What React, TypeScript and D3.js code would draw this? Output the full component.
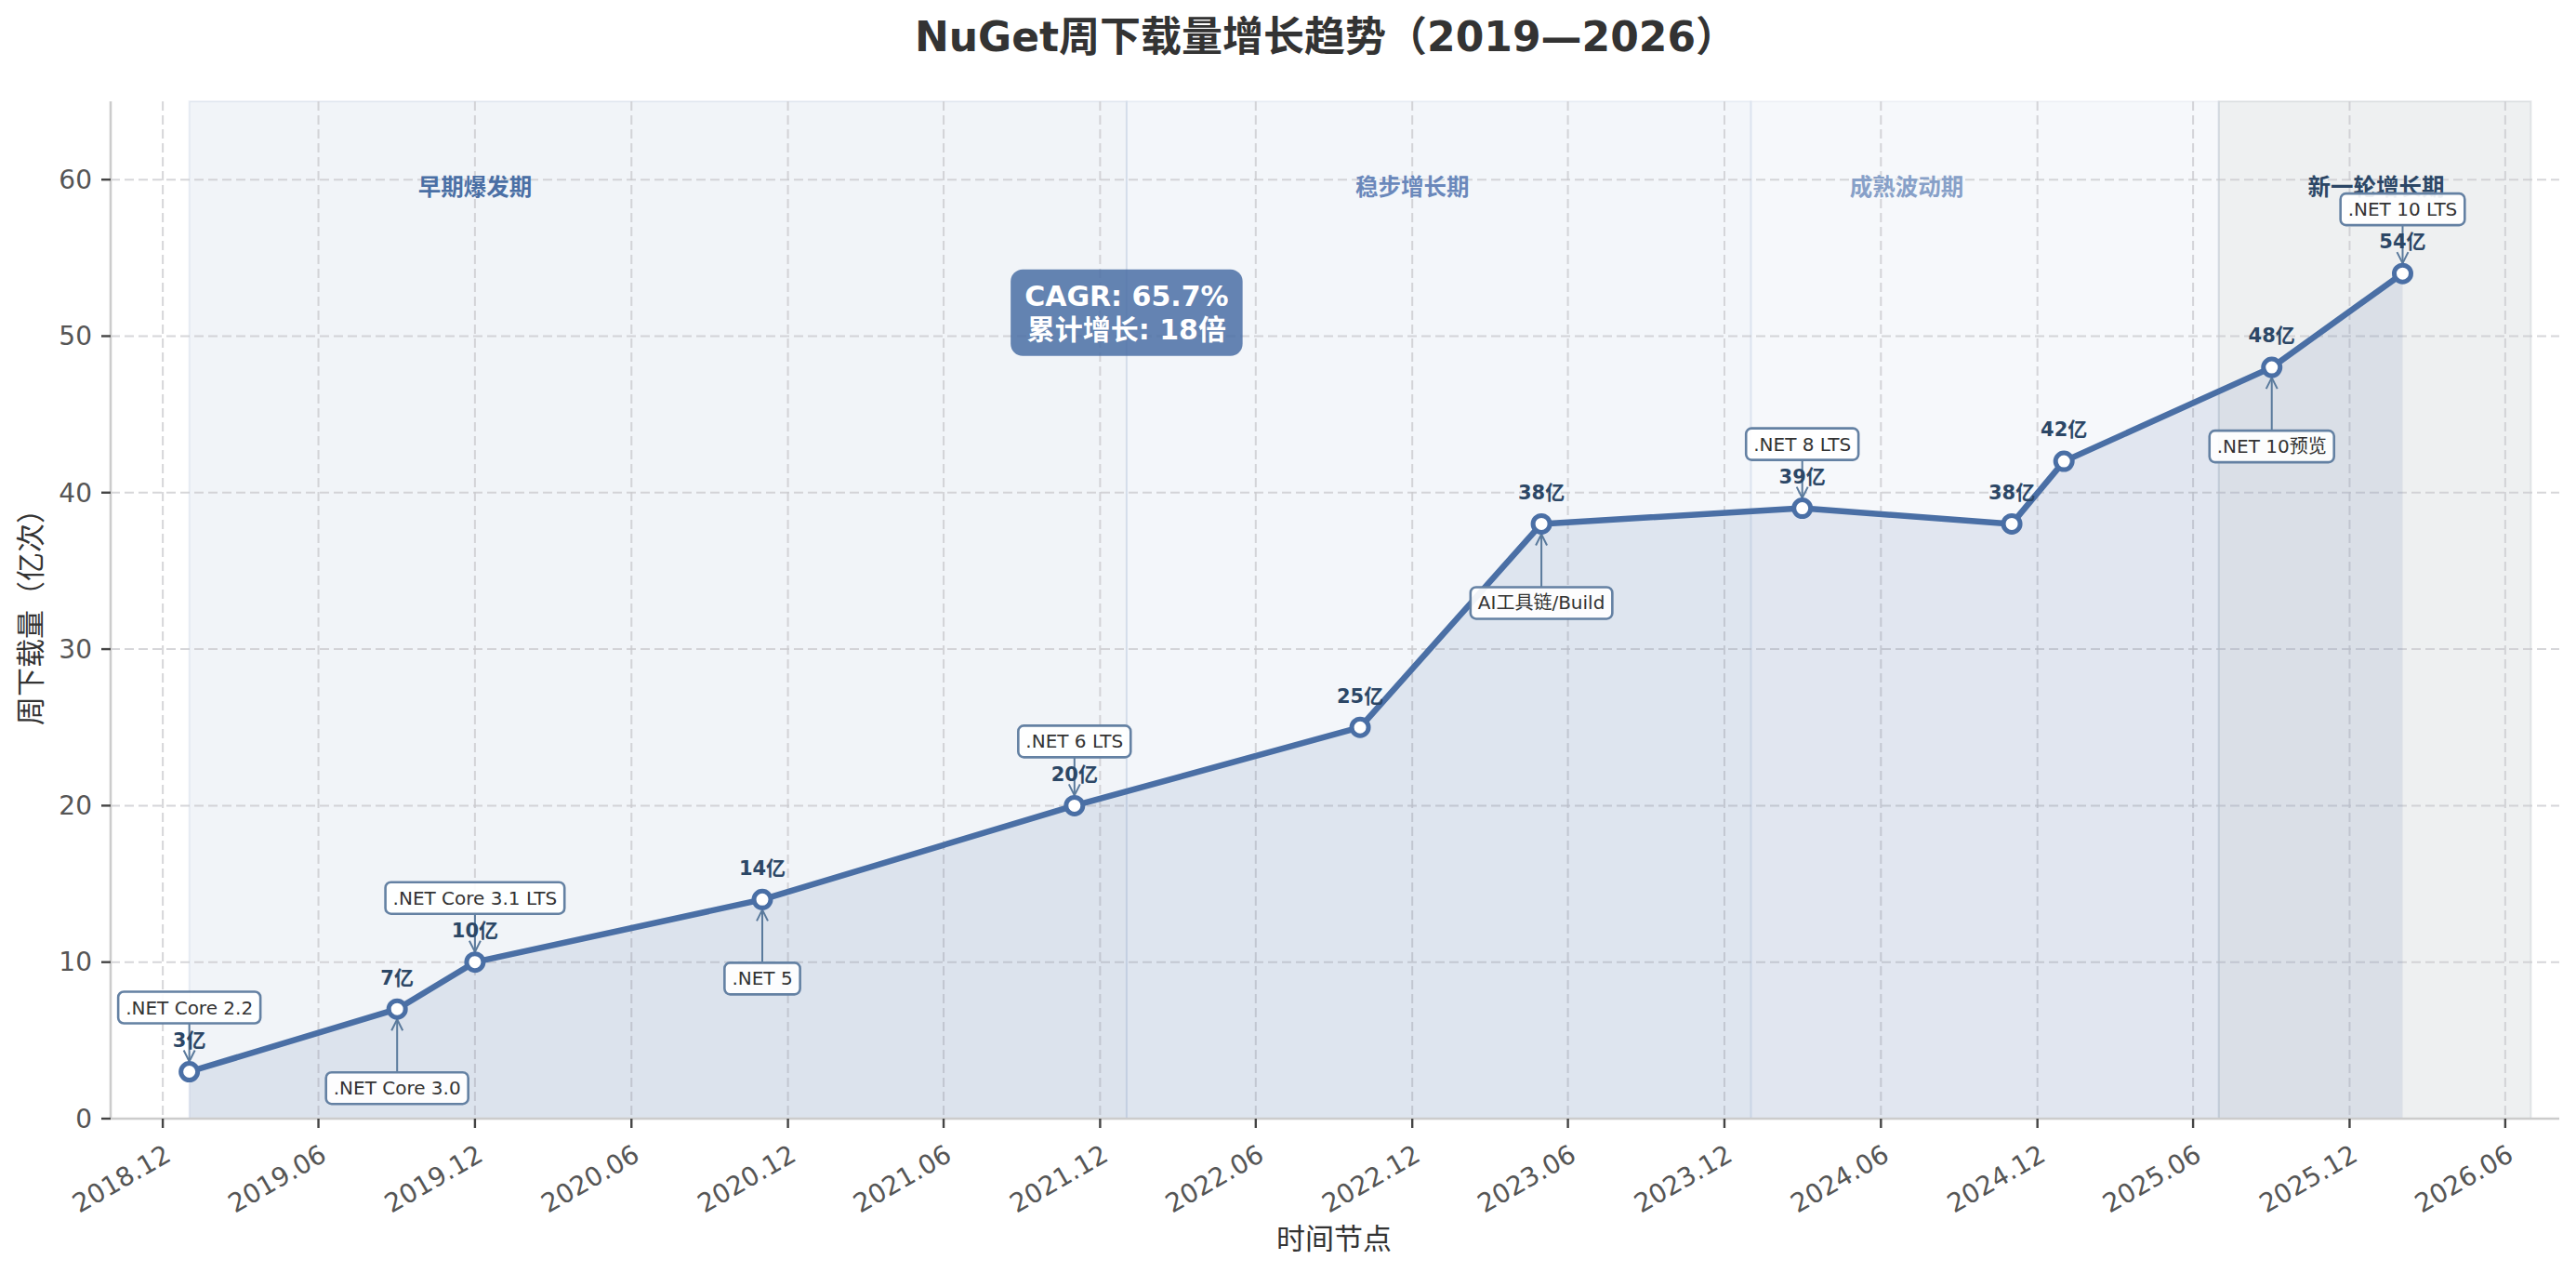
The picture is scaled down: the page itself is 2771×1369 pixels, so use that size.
import React, { useEffect, useRef } from "react";
import * as d3 from "d3";

// weekly downloads, 亿次
const pointDates = [
  "2019-01-01", "2019-09-01", "2019-12-01", "2020-11-01", "2021-11-01", "2022-10-01",
  "2023-05-01", "2024-03-01", "2024-11-01", "2025-01-01", "2025-09-01", "2026-02-01",
];
const pointValues = [3, 7, 10, 14, 20, 25, 38, 39, 38, 42, 48, 54];

// release annotations
const eventIndex = [0, 1, 2, 3, 4, 6, 7, 10, 11];
const eventLabels = [
  ".NET Core 2.2", ".NET Core 3.0", ".NET Core 3.1 LTS", ".NET 5", ".NET 6 LTS",
  "AI工具链/Build", ".NET 8 LTS", ".NET 10预览", ".NET 10 LTS",
];
const eventSide = ["above", "below", "above", "below", "above", "below", "above", "below", "above"];

// phases
const phaseNames = ["早期爆发期", "稳步增长期", "成熟波动期", "新一轮增长期"];
const phaseStarts = ["2019-01-01", "2022-01-01", "2024-01-01", "2025-07-01"];
const phaseEnds = ["2022-01-01", "2024-01-01", "2025-07-01", "2026-07-01"];
const phaseLabelDates = ["2019-12-01", "2022-12-01", "2024-07-01", "2026-01-01"];
const phaseLabelValue = 59.5;

const xTickLabels = [
  "2018.12", "2019.06", "2019.12", "2020.06", "2020.12", "2021.06", "2021.12", "2022.06",
  "2022.12", "2023.06", "2023.12", "2024.06", "2024.12", "2025.06", "2025.12", "2026.06",
];
const yTicks = [0, 10, 20, 30, 40, 50, 60];

const cagrText = ["CAGR: 65.7%", "累计增长: 18倍"];
const cagrDate = "2022-01-01";
const cagrValue = 51.5;

const phaseColors = ["#4a6fa5", "#6a8bbf", "#8fa5c8", "#2c3e50"];
const phaseTextColors = ["#4a6fa5", "#6a88bb", "#87a0c8", "#2c4766"];

const W = 2771;
const H = 1369;
const FONT = "'DejaVu Sans', 'Noto Sans CJK SC', sans-serif";
const LINE = "#4a6fa5";

const parse = (s: string) => new Date(s + "T00:00:00Z");
const parseTick = (s: string) => {
  const [y, m] = s.split(".").map(Number);
  return new Date(Date.UTC(y, m - 1, 1));
};

function App() {
  const ref = useRef<SVGSVGElement>(null);

  useEffect(() => {
    const svg = d3.select(ref.current);
    svg.selectAll("*").remove();

    const left = 119, right = 2751, top = 109, bottom = 1203;

    const x = d3
      .scaleUtc()
      .domain([new Date(Date.UTC(2018, 9, 1)), new Date(Date.UTC(2026, 7, 1))])
      .range([left, right]);
    const y = d3.scaleLinear().domain([0, 65]).range([bottom, top]);

    svg.append("rect").attr("width", W).attr("height", H).attr("fill", "#fff");

    // phase spans
    phaseNames.forEach((_, i) => {
      const x0 = x(parse(phaseStarts[i]));
      const x1 = x(parse(phaseEnds[i]));
      svg.append("rect")
        .attr("x", x0).attr("y", top)
        .attr("width", x1 - x0).attr("height", bottom - top)
        .attr("fill", phaseColors[i]).attr("fill-opacity", 0.08)
        .attr("stroke", phaseColors[i]).attr("stroke-opacity", 0.1).attr("stroke-width", 2);
    });

    // grid
    const grid = svg.append("g")
      .attr("stroke", "#c8c8cc").attr("stroke-opacity", 0.75)
      .attr("stroke-width", 2).attr("stroke-dasharray", "10,5");
    xTickLabels.forEach((t) => {
      const xx = x(parseTick(t));
      grid.append("line").attr("x1", xx).attr("x2", xx).attr("y1", top).attr("y2", bottom);
    });
    yTicks.forEach((t) => {
      grid.append("line").attr("x1", left).attr("x2", right + 2).attr("y1", y(t)).attr("y2", y(t));
    });

    const pts = pointDates.map((d, i) => ({ d: parse(d), v: pointValues[i] }));

    // area + line
    const area = d3.area<any>().x((p) => x(p.d)).y0(y(0)).y1((p) => y(p.v));
    svg.append("path").attr("d", area(pts)!).attr("fill", LINE).attr("fill-opacity", 0.12);
    const line = d3.line<any>().x((p) => x(p.d)).y((p) => y(p.v));
    svg.append("path").attr("d", line(pts)!).attr("fill", "none")
      .attr("stroke", LINE).attr("stroke-width", 6.5).attr("stroke-linejoin", "round");

    // spines
    svg.append("line").attr("x1", left).attr("x2", left).attr("y1", top).attr("y2", bottom)
      .attr("stroke", "#cccccc").attr("stroke-width", 2.6);
    svg.append("line").attr("x1", left).attr("x2", right + 2).attr("y1", bottom).attr("y2", bottom)
      .attr("stroke", "#cccccc").attr("stroke-width", 2.6);

    // ticks
    const tickG = svg.append("g").attr("font-family", FONT).attr("font-size", 28).attr("fill", "#555");
    yTicks.forEach((t) => {
      tickG.append("line").attr("x1", left - 10).attr("x2", left).attr("y1", y(t)).attr("y2", y(t))
        .attr("stroke", "#444").attr("stroke-width", 2.4);
      tickG.append("text").attr("x", left - 20).attr("y", y(t)).attr("dy", "0.35em")
        .attr("text-anchor", "end").text(String(t));
    });
    xTickLabels.forEach((t) => {
      const xx = x(parseTick(t));
      tickG.append("line").attr("x1", xx).attr("x2", xx).attr("y1", bottom).attr("y2", bottom + 10)
        .attr("stroke", "#444").attr("stroke-width", 2.4);
      tickG.append("text")
        .attr("transform", `translate(${xx},${bottom + 26}) rotate(-30)`)
        .attr("text-anchor", "end").attr("dy", "0.75em").text(t);
    });

    // axis labels
    svg.append("text").attr("x", (left + right) / 2).attr("y", 1343)
      .attr("text-anchor", "middle").attr("font-family", FONT).attr("font-size", 31)
      .attr("fill", "#333").text("时间节点");
    svg.append("text")
      .attr("transform", `translate(44,${(top + bottom) / 2}) rotate(-90)`)
      .attr("text-anchor", "middle").attr("font-family", FONT).attr("font-size", 31)
      .attr("fill", "#333").text("周下载量（亿次）");

    // title
    svg.append("text").attr("x", 1426).attr("y", 55)
      .attr("text-anchor", "middle").attr("font-family", FONT).attr("font-size", 44)
      .attr("font-weight", "bold").attr("fill", "#333")
      .text("NuGet周下载量增长趋势（2019—2026）");

    // phase labels
    phaseNames.forEach((name, i) => {
      svg.append("text").attr("x", x(parse(phaseLabelDates[i]))).attr("y", y(phaseLabelValue))
        .attr("dy", "0.35em").attr("text-anchor", "middle")
        .attr("font-family", FONT).attr("font-size", 24.5).attr("font-weight", "bold")
        .attr("fill", phaseTextColors[i]).text(name);
    });

    // annotation arrows
    const arrowG = svg.append("g").attr("stroke", "#5a7a9c").attr("stroke-width", 2).attr("fill", "none");
    const boxes: { cx: number; cy: number; label: string }[] = [];
    eventIndex.forEach((idx, k) => {
      const px = x(pts[idx].d);
      const py = y(pts[idx].v);
      const above = eventSide[k] === "above";
      const cy = above ? py - 69 : py + 85;
      const y0 = above ? cy + 17 : cy - 17;
      const y1 = above ? py - 11 : py + 11;
      arrowG.append("line").attr("x1", px).attr("x2", px).attr("y1", y0).attr("y2", y1);
      const dir = above ? -1 : 1;
      arrowG.append("path")
        .attr("d", `M${px - 6},${y1 + dir * 12}L${px},${y1}L${px + 6},${y1 + dir * 12}`);
      boxes.push({ cx: px, cy, label: eventLabels[k] });
    });

    // markers
    svg.append("g").selectAll("circle").data(pts).enter().append("circle")
      .attr("cx", (p) => x(p.d)).attr("cy", (p) => y(p.v)).attr("r", 9)
      .attr("fill", "#fff").attr("stroke", LINE).attr("stroke-width", 5);

    // value labels
    svg.append("g").selectAll("text").data(pts).enter().append("text")
      .attr("x", (p) => x(p.d)).attr("y", (p) => y(p.v) - 34).attr("dy", "0.35em")
      .attr("text-anchor", "middle").attr("font-family", FONT).attr("font-size", 21)
      .attr("font-weight", "bold").attr("fill", "#2c4766")
      .text((p) => `${p.v}亿`);

    // annotation boxes
    boxes.forEach((b) => {
      const g = svg.append("g");
      const t = g.append("text").attr("x", b.cx).attr("y", b.cy).attr("dy", "0.35em")
        .attr("text-anchor", "middle").attr("font-family", FONT).attr("font-size", 20)
        .attr("fill", "#333").text(b.label);
      const bb = (t.node() as SVGTextElement).getBBox();
      g.insert("rect", "text")
        .attr("x", bb.x - 8).attr("y", b.cy - 17)
        .attr("width", bb.width + 16).attr("height", 34).attr("rx", 6)
        .attr("fill", "#fff").attr("fill-opacity", 0.92)
        .attr("stroke", "#6481a3").attr("stroke-width", 2.6);
    });

    // CAGR box
    const cx = x(parse(cagrDate));
    const cy = y(cagrValue);
    const cg = svg.append("g");
    const ct = cg.append("text").attr("text-anchor", "middle").attr("font-family", FONT)
      .attr("font-size", 30).attr("font-weight", "bold").attr("fill", "#fff");
    cagrText.forEach((s, i) => {
      ct.append("tspan").attr("x", cx).attr("y", cy + (i - 0.5) * 36).attr("dy", "0.35em").text(s);
    });
    const cb = (ct.node() as SVGTextElement).getBBox();
    cg.insert("rect", "text")
      .attr("x", cb.x - 15).attr("y", cy - 46.5)
      .attr("width", cb.width + 30).attr("height", 93).attr("rx", 13)
      .attr("fill", LINE).attr("fill-opacity", 0.85);
  }, []);

  return (
    <div style={{ position: "absolute", left: 0, top: 0 }}>
      <svg ref={ref} width={W} height={H} />
    </div>
  );
}

export default App;
